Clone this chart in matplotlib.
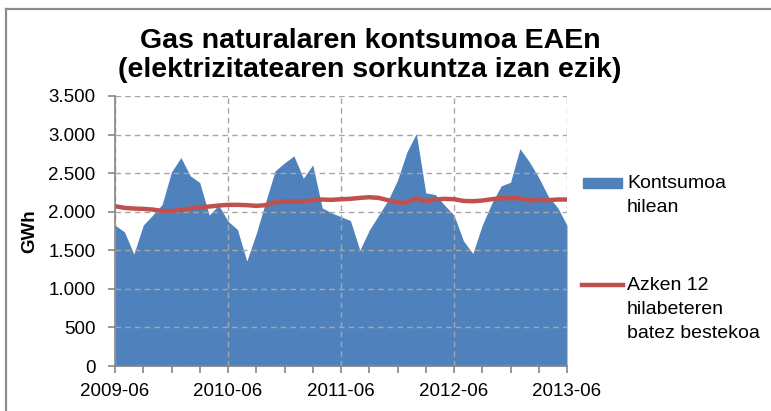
import numpy as np
import pandas as pd
import matplotlib.pyplot as plt
from matplotlib.lines import Line2D
from matplotlib.patches import Rectangle
from matplotlib.ticker import FuncFormatter, MultipleLocator

plt.rcParams['font.family'] = ['Liberation Sans', 'DejaVu Sans']

# Hileak 2009-06 .. 2013-06
months = [str(p) for p in pd.period_range('2009-06', '2013-06', freq='M')]

# Kontsumoa hilean (GWh)
monthly = [1826, 1739, 1450, 1826, 1955, 2093, 2516, 2702, 2464, 2378,
           1955, 2085, 1877, 1770, 1360, 1718, 2128, 2529, 2633, 2723,
           2434, 2607, 2050, 1985, 1935, 1885, 1502, 1761, 1955, 2149,
           2408, 2775, 3012, 2244, 2223, 2085, 1955, 1623, 1459, 1826,
           2106, 2335, 2382, 2818, 2646, 2443, 2201, 2054, 1826]

# Azken 12 hilabeteren batez bestekoa (GWh)
rolling = [2072, 2050, 2041, 2037, 2028, 2011, 2007, 2024, 2041, 2059,
           2067, 2080, 2089, 2089, 2085, 2076, 2085, 2123, 2132, 2132,
           2132, 2149, 2158, 2154, 2162, 2167, 2179, 2188, 2179, 2149,
           2119, 2119, 2175, 2136, 2158, 2167, 2162, 2140, 2136, 2145,
           2162, 2175, 2175, 2175, 2145, 2154, 2149, 2158, 2158]

labels = [['Kontsumoa', 'hilean'],
          ['Azken 12', 'hilabeteren', 'batez bestekoa']]

x = np.arange(len(months))
blue = '#4F81BD'
red = '#C0504D'
grey = '#868686'
W, H = 771, 411

fig = plt.figure(figsize=(W / 100, H / 100), dpi=100)
ax = fig.add_axes([115 / W, 1 - 366 / H, 452 / W, 270 / H])

ax.fill_between(x, monthly, 0, color=blue, linewidth=0)
ax.plot(x, rolling, color=red, linewidth=3.2)

ax.set_xlim(0, len(months) - 1)
ax.set_ylim(0, 3500)
ax.yaxis.set_major_locator(MultipleLocator(500))
ax.yaxis.set_major_formatter(FuncFormatter(lambda v, p: f'{int(v):,}'.replace(',', '.')))
ax.set_xticks(x[::12])
ax.set_xticklabels(months[::12])
ax.set_xticks(x[::3], minor=True)

ax.grid(True, which='major', color='#A6A6A6', linestyle=(0, (4, 3)), linewidth=1)
for s in ['top', 'right']:
    ax.spines[s].set_visible(False)
for s in ['left', 'bottom']:
    ax.spines[s].set_color(grey)
    ax.spines[s].set_linewidth(1.2)
ax.tick_params(which='both', direction='out', length=5, color=grey, width=1.2)
ax.tick_params(axis='x', labelsize=13.5, pad=7)
ax.tick_params(axis='y', labelsize=13.5, pad=9)

ax.set_ylabel('GWh', fontsize=13.5, fontweight='bold', labelpad=7)
fig.text(370 / W, 1 - 28 / H,
         'Gas naturalaren kontsumoa EAEn\n(elektrizitatearen sorkuntza izan ezik)',
         ha='center', va='top', fontsize=20.5, fontweight='bold', linespacing=1.16)

# legenda
fig.add_artist(Rectangle((583 / W, 1 - 188 / H), 39 / W, 10 / H, color=blue,
                         transform=fig.transFigure))
fig.add_artist(Line2D([582 / W, 623 / W], [1 - 285 / H] * 2, color=red, linewidth=3.2))
for lines, y0 in zip(labels, [183, 285]):
    for i, t in enumerate(lines):
        fig.text(627 / W, 1 - (y0 + 24 * i) / H, t, fontsize=14, va='center')

# marko grisa
fig.add_artist(Line2D([6 / W, 1], [1 - 9 / H] * 2, color='#8C8C8C', linewidth=1.6))
fig.add_artist(Line2D([6 / W] * 2, [0, 1 - 9 / H], color='#8C8C8C', linewidth=1.6))

fig.savefig('out.png', dpi=100)
